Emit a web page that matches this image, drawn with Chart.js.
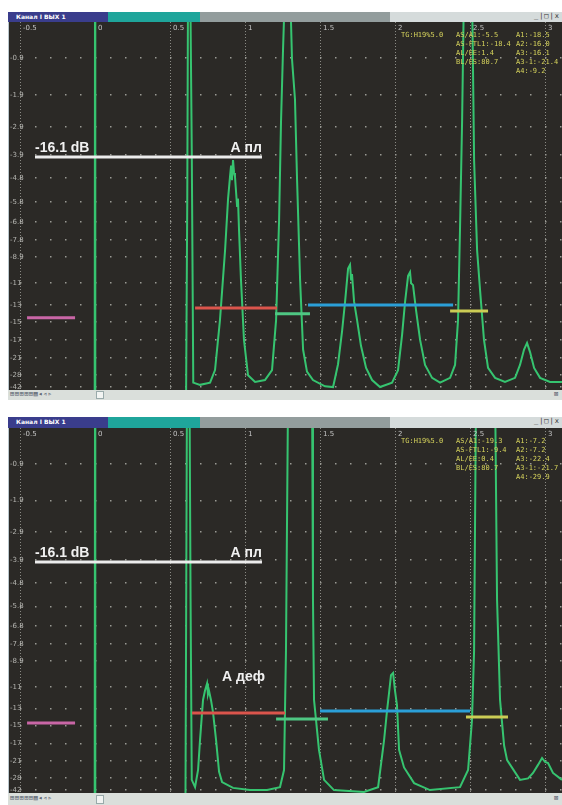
<!DOCTYPE html>
<html>
<head>
<meta charset="utf-8">
<script src="https://cdn.jsdelivr.net/npm/chart.js@4/dist/chart.umd.min.js"></script>
<style>
  body { margin: 0; background: #fff; width: 562px; height: 805px; position: relative; overflow: hidden; font-family: "Liberation Sans", Arial, sans-serif; }
  .bar { position: absolute; left: 8px; width: 554px; display: flex; }
  .bar div { height: 100%; }
  .navy { width: 100px; background: #3a3d8c; color: #fff; font: bold 6px "DejaVu Sans", sans-serif; line-height: 9px; padding-left: 8px; box-sizing: border-box; white-space: nowrap; }
  .teal { width: 92px; background: #1fa59b; }
  .grey { width: 190px; background: #939d9d; }
  .light { flex: 1; background: #d5dbdb; position: relative; }
  .btns { position: absolute; right: 2px; top: 0; font: 7px "DejaVu Sans Mono", monospace; color: #333; letter-spacing: 1px; }
  canvas { position: absolute; left: 8px; background: #2b2926; }
  .edge { position: absolute; left: 8px; width: 1px; background: #b9c6cc; }
  .tool { position: absolute; left: 8px; width: 554px; background: #dadfdb; }
  .icons { position: absolute; left: 2px; top: 0; font: 7px "DejaVu Sans Mono", monospace; color: #5a6470; letter-spacing: 0.5px; }
  .box { position: absolute; left: 88px; width: 6px; background: #f2f4f2; border: 1px solid #9aa; }
  .info { position: absolute; color: #d6d35c; font: 7px "DejaVu Sans Mono", monospace; line-height: 9px; white-space: pre; }
</style>
</head>
<body>
<!-- panel 1 -->
<div class="bar" style="top:12px;height:10px"><div class="navy">Канал I ВЫХ 1</div><div class="teal"></div><div class="grey"></div><div class="light"><span class="btns">_|□|x</span></div></div>
<canvas id="c1" width="554" height="368" style="top:22px"></canvas>
<div class="edge" style="top:22px;height:368px"></div>
<div class="tool" style="top:390px;height:10px"><span class="icons">⊞⊞⊞⊞⊞▤◂◃▹</span><span class="box" style="top:1px;height:6px"></span><span class="icons" style="left:546px">⊠</span></div>
<div class="info" style="left:401px;top:31px">TG:H19%5.0</div>
<div class="info" style="left:456px;top:31px">AS/A1:-5.5
AS-FTL1:-18.4
AL/EE:1.4
BL/ES:80.7</div>
<div class="info" style="left:516px;top:31px">A1:-18.5
A2:-16.0
A3:-16.1
A3-1:-21.4
A4:-9.2</div>

<!-- panel 2 -->
<div class="bar" style="top:417px;height:11px"><div class="navy">Канал I ВЫХ 1</div><div class="teal"></div><div class="grey"></div><div class="light"><span class="btns">_|□|x</span></div></div>
<canvas id="c2" width="554" height="365" style="top:428px"></canvas>
<div class="edge" style="top:428px;height:365px"></div>
<div class="tool" style="top:793px;height:12px"><span class="icons" style="top:1px">⊞⊞⊞⊞⊞▤◂◃▹</span><span class="box" style="top:2px;height:7px"></span><span class="icons" style="left:546px;top:1px">⊠</span></div>
<div class="info" style="left:401px;top:437px">TG:H19%5.0</div>
<div class="info" style="left:456px;top:437px">AS/A1:-19.3
AS-FTL1:-9.4
AL/EE:0.4
BL/ES:80.7</div>
<div class="info" style="left:516px;top:437px">A1:-7.2
A2:-7.2
A3:-22.4
A3-1:-21.7
A4:-29.9</div>

<script>
// axis: time base (x) and amplitude in % of screen height (y)
const xMin = -0.58;
const xMax = 3.113;
const xTickLabels = ["-0.5", "0", "0.5", "1", "1.5", "2", "2.5", "3"];
const yTickVals = [90.2, 80.2, 71.5, 63.9, 57.6, 51.1, 45.7, 40.8, 36.1, 29.1, 23.1, 18.5, 13.6, 8.7, 4.1, 0.8];
const yTickLabels = ["-0.9", "-1.9", "-2.9", "-3.9", "-4.8", "-5.8", "-6.8", "-7.8", "-8.9", "-11", "-13", "-15", "-17", "-21", "-28", "-42"];

// top screen: plate echo only
const topX = [-0.58, -0.002, 0, 0.001, 0.003, 0.607, 0.615, 0.62, 0.635, 0.645, 0.655, 0.7, 0.767, 0.8, 0.833, 0.867, 0.887, 0.9, 0.907, 0.913, 0.92, 0.927, 0.933, 0.947, 0.953, 0.96, 0.973, 0.993, 1.02, 1.067, 1.133, 1.18, 1.207, 1.227, 1.24, 1.253, 1.267, 1.3, 1.313, 1.333, 1.347, 1.367, 1.387, 1.413, 1.453, 1.533, 1.587, 1.62, 1.647, 1.667, 1.687, 1.7, 1.707, 1.713, 1.727, 1.747, 1.773, 1.807, 1.847, 1.9, 1.98, 2.02, 2.047, 2.067, 2.087, 2.1, 2.107, 2.12, 2.14, 2.167, 2.2, 2.247, 2.3, 2.367, 2.4, 2.42, 2.433, 2.447, 2.46, 2.513, 2.527, 2.547, 2.567, 2.593, 2.62, 2.667, 2.733, 2.8, 2.833, 2.86, 2.88, 2.9, 2.927, 2.967, 3.033, 3.113];
const topY = [-2, -2, 110, 110, -2, -2, 52, 110, 110, 65, 2, 1.4, 2, 5.4, 19, 38, 52, 58, 61, 57, 62.5, 59, 58, 50, 52, 43.5, 30, 13.6, 4, 2.2, 2.7, 5.4, 19, 46, 73, 92, 110, 110, 90, 79, 57, 30, 11, 5, 2.7, 1, 0.8, 7, 16, 24, 33, 34, 30, 31.5, 24, 19, 12, 6, 2.7, 0.8, 2, 5.4, 15, 24, 31, 32, 29, 28.5, 21.7, 13.6, 6.8, 3.3, 2, 3.3, 6.8, 19, 43.5, 73, 110, 110, 62.5, 38, 27, 13.6, 6, 3.3, 2.2, 3.3, 6.8, 11, 12.8, 10.3, 6, 3.3, 2.2, 2.2];

// bottom screen: defect echo present
const botX = [-0.58, -0.002, 0, 0.001, 0.003, 0.603, 0.613, 0.63, 0.637, 0.645, 0.667, 0.687, 0.7, 0.72, 0.733, 0.747, 0.753, 0.76, 0.773, 0.787, 0.807, 0.827, 0.847, 0.92, 1.033, 1.147, 1.233, 1.26, 1.273, 1.287, 1.447, 1.453, 1.46, 1.493, 1.527, 1.593, 1.793, 1.887, 1.927, 1.947, 1.96, 1.973, 1.987, 2.0, 2.013, 2.027, 2.06, 2.127, 2.233, 2.433, 2.487, 2.513, 2.527, 2.54, 2.667, 2.68, 2.7, 2.727, 2.747, 2.833, 2.887, 2.92, 2.953, 2.98, 3.0, 3.02, 3.053, 3.113];
const botY = [-2, -2, 110, 110, -2, -2, 110, 110, 53, 3.6, 1.6, 6.3, 14.5, 25.5, 28, 30, 27, 28, 25.5, 22, 14.5, 5.8, 3, 1.4, 0.8, 0.8, 1.6, 6.3, 39, 110, 110, 53, 25.5, 11.8, 3.6, 0.8, 0.3, 1.6, 14.5, 22.7, 27.4, 32.3, 32.9, 28, 24, 11.8, 7, 2.7, 0.8, 1.6, 6.3, 20, 39, 110, 110, 53, 25.5, 13, 9, 3.6, 4, 5.5, 7.7, 9.6, 8.5, 8.2, 5.5, 3.6];

// gates: [x start, x end, level]
const gateNames = ["white", "magenta", "red", "green", "blue", "yellow"];
const gateColors = ["#ececec", "#c966a6", "#db554c", "#4fc783", "#2b9fd8", "#cccc55"];
const topGates = [[-0.4, 1.113, 63.3], [-0.453, -0.133, 19.6], [0.667, 1.213, 22.3], [1.2, 1.433, 20.7], [1.42, 2.387, 23.1], [2.367, 2.62, 21.5]];
const botGates = [[-0.4, 1.113, 63.3], [-0.453, -0.133, 19.2], [0.647, 1.267, 21.9], [1.207, 1.553, 20.3], [1.5, 2.5, 22.5], [2.473, 2.753, 20.8]];

const gateText = "-16.1 dB";
const plateText = "А пл";
const defectText = "А деф";
const defectPos = [0.847, 30.7];

const overlay = {
  id: "overlay",
  afterDatasetsDraw(chart, args, opts) {
    const { ctx, scales: { x, y } } = chart;
    ctx.save();
    ctx.font = '7px "DejaVu Sans"';
    ctx.fillStyle = "#c4c4c4";
    ctx.textBaseline = "top";
    x.ticks.forEach((t, i) => ctx.fillText(xTickLabels[i], x.getPixelForValue(t.value) + 3, 3));

    const g = opts.gates[0];
    const gy = y.getPixelForValue(g[2]) - 5;
    ctx.font = 'bold 14px "Liberation Sans"';
    ctx.fillStyle = "#f0f0f0";
    ctx.textBaseline = "alphabetic";
    ctx.textAlign = "left";
    ctx.fillText(gateText, x.getPixelForValue(g[0]), gy);
    ctx.textAlign = "right";
    ctx.fillText(plateText, x.getPixelForValue(g[1]), gy);
    if (opts.defect) {
      ctx.textAlign = "left";
      ctx.fillText(defectText, x.getPixelForValue(defectPos[0]), y.getPixelForValue(defectPos[1]));
    }
    ctx.restore();
  }
};

// let the plot fill the whole canvas
function noPad(scale) {
  scale.paddingTop = 0;
  scale.paddingBottom = 0;
  scale.paddingLeft = 0;
  scale.paddingRight = 0;
  if (scale.isHorizontal()) scale.height = 0; else scale.width = 0;
}

function makeChart(id, xs, ys, gates, defect) {
  const datasets = gates.map((g, i) => ({
    label: gateNames[i],
    data: [{ x: g[0], y: g[2] }, { x: g[1], y: g[2] }],
    borderColor: gateColors[i],
    borderWidth: 3,
    pointRadius: 0,
    order: 1
  }));
  datasets.push({
    label: "A-scan",
    data: xs.map((v, i) => ({ x: v, y: ys[i] })),
    borderColor: "#36c470",
    borderWidth: 2,
    pointRadius: 0,
    tension: 0,
    order: 5
  });

  return new Chart(document.getElementById(id), {
    type: "line",
    data: { datasets },
    options: {
      responsive: false,
      animation: false,
      layout: { padding: 0 },
      plugins: { legend: { display: false }, tooltip: { enabled: false }, overlay: { gates, defect } },
      scales: {
        x: {
          type: "linear",
          min: xMin,
          max: xMax,
          afterFit: noPad,
          border: { display: false, dash: [1, 2] },
          grid: { color: "#8a8a84", drawTicks: false },
          ticks: { display: false, stepSize: 0.5, includeBounds: false }
        },
        y: {
          type: "linear",
          min: 0,
          max: 100,
          afterFit: noPad,
          border: { display: false, dash: [1.5, 13.5], dashOffset: 3 },
          afterBuildTicks: (scale) => { scale.ticks = yTickVals.map((v) => ({ value: v })); },
          grid: { color: "#9a9a94", lineWidth: 1.5, drawTicks: false },
          ticks: {
            mirror: true,
            padding: 2,
            color: "#b4b4b0",
            font: { size: 7, family: "DejaVu Sans" },
            callback: (v, i) => yTickLabels[i]
          }
        }
      }
    },
    plugins: [overlay]
  });
}

makeChart("c1", topX, topY, topGates, false);
makeChart("c2", botX, botY, botGates, true);
</script>
</body>
</html>
